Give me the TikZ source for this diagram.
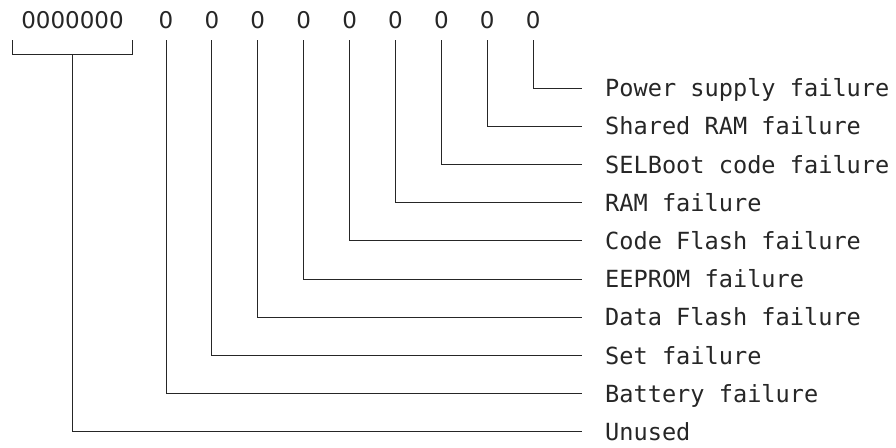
\documentclass[tikz,border=0pt]{standalone}
\usepackage{fontspec}
\newfontfamily\monofont{DejaVu Sans Mono}
\newfontfamily\digitfont{DejaVu Sans}
\begin{document}
\begin{tikzpicture}[x=1pt,y=-1pt,
  txt/.style={font=\monofont\fontsize{23.6}{24}\selectfont, text height=17.2pt, text depth=0pt, inner ysep=0pt, text=black!85},
  bit/.style={txt, font=\digitfont\fontsize{23}{24}\selectfont, inner xsep=0pt, outer ysep=11.4pt},
  lab/.style={txt, anchor=west, inner xsep=23pt},
  wire/.style={draw=black!85, line width=1pt}]
\useasboundingbox (0,0) rectangle (896,447);
% top row
\node[bit, minimum width=119pt] (g) at (72.5,20) {0000000};
\foreach \i in {1,...,9} {
  \node[bit] (b\i) at ({166+45.9*(\i-1)},20) {0};
}
% labels
\node[lab] (l9) at (582,88) {Power supply failure};
\node[lab] (l8) at (582,126.2) {Shared RAM failure};
\node[lab] (l7) at (582,164.4) {SELBoot code failure};
\node[lab] (l6) at (582,202.6) {RAM failure};
\node[lab] (l5) at (582,240.8) {Code Flash failure};
\node[lab] (l4) at (582,279) {EEPROM failure};
\node[lab] (l3) at (582,317.2) {Data Flash failure};
\node[lab] (l2) at (582,355.4) {Set failure};
\node[lab] (l1) at (582,393.6) {Battery failure};
\node[lab] (l0) at (582,431.8) {Unused};
% connectors
\foreach \i in {1,...,9} {
  \draw[wire] (b\i.south) |- (l\i.west);
}
\draw[wire] (g.south west) -- ++(0,14) -| (g.south east);
\draw[wire] (g.south) ++(0,14) coordinate (gm) |- (l0.west);
\end{tikzpicture}
\end{document}
